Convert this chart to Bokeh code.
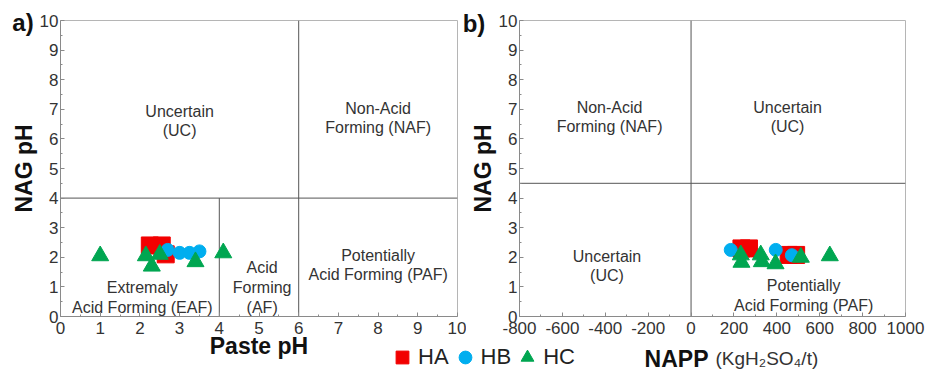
from bokeh.plotting import figure
from bokeh.layouts import row, column
from bokeh.models import Range1d, FixedTicker, Label, Legend, LegendItem
from bokeh.embed import file_html
from bokeh.resources import INLINE
from bokeh.core.properties import value

# ---------------- data ----------------
# panel a: Paste pH vs NAG pH
a_ha_x = [2.25, 2.55, 2.65]
a_ha_y = [2.4, 2.4, 2.1]
a_hb_x = [2.7, 3.0, 3.25, 3.5]
a_hb_y = [2.25, 2.15, 2.15, 2.2]
a_hc_x = [1.0, 2.15, 2.3, 2.5, 3.4, 4.1]
a_hc_y = [2.05, 2.05, 1.7, 2.1, 1.85, 2.15]

# panel b: NAPP vs NAG pH
b_ha_x = [235, 270, 455, 490]
b_ha_y = [2.3, 2.3, 2.08, 2.08]
b_hb_x = [185, 395, 470]
b_hb_y = [2.25, 2.25, 2.07]
b_hc_x = [232, 235, 325, 330, 394, 512, 647]
b_hc_y = [2.08, 1.83, 2.08, 1.85, 1.78, 2.0, 2.05]

# classification boundaries
a_div_x0 = [6, 0, 4]
a_div_y0 = [0, 4, 0]
a_div_x1 = [6, 10, 4]
a_div_y1 = [10, 4, 4]
b_div_x0 = [0, -800]
b_div_y0 = [0, 4.5]
b_div_x1 = [0, 1000]
b_div_y1 = [10, 4.5]

# region labels
a_reg_text = ["Uncertain\n(UC)", "Non-Acid\nForming (NAF)", "Extremaly\nAcid Forming (EAF)",
              "Acid\nForming\n(AF)", "Potentially\nAcid Forming (PAF)"]
a_reg_x = [3.0, 8.0, 2.06, 5.08, 8.0]
a_reg_y = [6.6, 6.7, 0.64, 0.98, 1.74]
b_reg_text = ["Non-Acid\nForming (NAF)", "Uncertain\n(UC)", "Uncertain\n(UC)",
              "Potentially\nAcid Forming (PAF)"]
b_reg_x = [-380, 450, -392, 525]
b_reg_y = [6.74, 6.74, 1.71, 0.71]

# ticks
a_xticks = [0, 1, 2, 3, 4, 5, 6, 7, 8, 9, 10]
a_yticks = [0, 1, 2, 3, 4, 5, 6, 7, 8, 9, 10]
b_xticks = [-800, -600, -400, -200, 0, 200, 400, 600, 800, 1000]
b_xtick_labels = ["-800", "-600", "-400", "-200", "0", "200", "400", "600", "800", "1000"]

series_names = ["HA", "HB", "HC"]
series_colors = ["#F20000", "#00AEEF", "#00A651"]
series_markers = ["square", "circle", "triangle"]
series_sizes = [17, 13, 17]

FONT = "Liberation Sans"
TXT = "#333333"
H = 370


def base_fig(x_range, width, left, right):
    p = figure(width=width, height=H, x_range=Range1d(*x_range), y_range=Range1d(0, 10),
               output_backend="svg", toolbar_location=None,
               min_border_left=left, min_border_right=right, min_border_top=20,
               min_border_bottom=54)
    p.xgrid.visible = False
    p.ygrid.visible = False
    p.outline_line_color = "#b5b5b5"
    p.background_fill_color = "white"
    p.border_fill_color = "white"
    for ax in [p.xaxis[0], p.yaxis[0]]:
        ax.axis_line_color = "#8a8a8a"
        ax.major_tick_line_color = "#8a8a8a"
        ax.minor_tick_line_color = "#8a8a8a"
        ax.major_tick_in = 4
        ax.major_tick_out = 0
        ax.minor_tick_in = 2
        ax.minor_tick_out = 0
        ax.major_label_text_font = FONT
        ax.major_label_text_font_size = "17px"
        ax.major_label_text_color = TXT
        ax.axis_label_text_font = FONT
        ax.axis_label_text_font_size = "23px"
        ax.axis_label_text_font_style = "bold"
        ax.axis_label_text_color = "#111111"
    p.xaxis.major_label_standoff = 5
    p.yaxis.major_label_standoff = 2
    p.yaxis.axis_label = "NAG pH"
    p.yaxis.axis_label_standoff = 0
    return p


def halves(ticks):
    return [(ticks[i] + ticks[i + 1]) / 2 for i in range(len(ticks) - 1)]


def add_points(p, xs, ys):
    rs = []
    for x, y, c, m, s in zip(xs, ys, series_colors, series_markers, series_sizes):
        rs.append(p.scatter(x, y, marker=m, size=s, fill_color=c, line_color=c))
    return rs


# ---------------- panel a ----------------
pa = base_fig((0, 10), 466, 60, 9)
pa.xaxis.ticker = FixedTicker(ticks=a_xticks, minor_ticks=halves(a_xticks))
pa.yaxis.ticker = FixedTicker(ticks=a_yticks, minor_ticks=halves(a_yticks))
pa.xaxis.axis_label = "Paste pH"
pa.xaxis.axis_label_standoff = -4
pa.segment(a_div_x0, a_div_y0, a_div_x1, a_div_y1, line_color="#555555", line_width=1)
pa.text(a_reg_x, a_reg_y, text=a_reg_text, text_align="center", text_baseline="middle",
        text_font=value(FONT), text_font_size=value("16px"), text_color=TXT, text_line_height=1.15)
add_points(pa, [a_ha_x, a_hb_x, a_hc_x], [a_ha_y, a_hb_y, a_hc_y])

# ---------------- panel b ----------------
pb = base_fig((-800, 1000), 470, 48, 31)
pb.xaxis.ticker = FixedTicker(ticks=b_xticks, minor_ticks=halves(b_xticks))
pb.xaxis.major_label_overrides = {t: l for t, l in zip(b_xticks, b_xtick_labels)}
pb.yaxis.ticker = FixedTicker(ticks=a_yticks, minor_ticks=halves(a_yticks))
pb.segment(b_div_x0, b_div_y0, b_div_x1, b_div_y1, line_color="#555555", line_width=1)
pb.text(b_reg_x, b_reg_y, text=b_reg_text, text_align="center", text_baseline="middle",
        text_font=value(FONT), text_font_size=value("16px"), text_color=TXT, text_line_height=1.15)
add_points(pb, [b_ha_x, b_hb_x, b_hc_x], [b_ha_y, b_hb_y, b_hc_y])

# ---------------- transparent overlay: panel tags, NAPP title, legend ----------------
ov = figure(width=936, height=H, x_range=Range1d(0, 1), y_range=Range1d(0, 1),
            output_backend="svg", toolbar_location=None, min_border=0,
            margin=(-H, 0, 0, 0))
ov.axis.visible = False
ov.xgrid.visible = False
ov.ygrid.visible = False
ov.outline_line_color = None
ov.background_fill_color = None
ov.border_fill_color = None


def ov_label(x, y, text, size, bold=False, align="center", baseline="middle", color="#111111"):
    ov.add_layout(Label(x=x, y=y, x_units="screen", y_units="screen", text=text,
                        text_font=FONT, text_font_size=size,
                        text_font_style="bold" if bold else "normal",
                        text_align=align, text_baseline=baseline, text_color=color))


ov_label(22.5, H - 22, "a)", "24px", bold=True)
ov_label(473.5, H - 23, "b)", "24px", bold=True)
ov_label(708, H - 358, "NAPP", "23px", bold=True, align="right", baseline="alphabetic")
ov_label(715, H - 358, "(KgH\u2082SO\u2084/t)", "19px", align="left", baseline="alphabetic", color=TXT)

# legend keys (renderers lie outside the overlay's 0..1 ranges, so only the legend shows)
leg_rs = add_points(ov, [a_ha_x, a_hb_x, a_hc_x], [a_ha_y, a_hb_y, a_hc_y])
legend = Legend(items=[LegendItem(label=n, renderers=[r]) for n, r in zip(series_names, leg_rs)],
                orientation="horizontal", location=(386, -3),
                glyph_width=32, glyph_height=32, label_standoff=-14, spacing=-4,
                padding=0, margin=0, border_line_color=None, background_fill_alpha=0,
                label_text_font=FONT, label_text_font_size="22px", label_text_color="#222222")
ov.add_layout(legend)

layout = column(row(pa, pb), ov)
open("out.html", "w").write(file_html(layout, INLINE))
